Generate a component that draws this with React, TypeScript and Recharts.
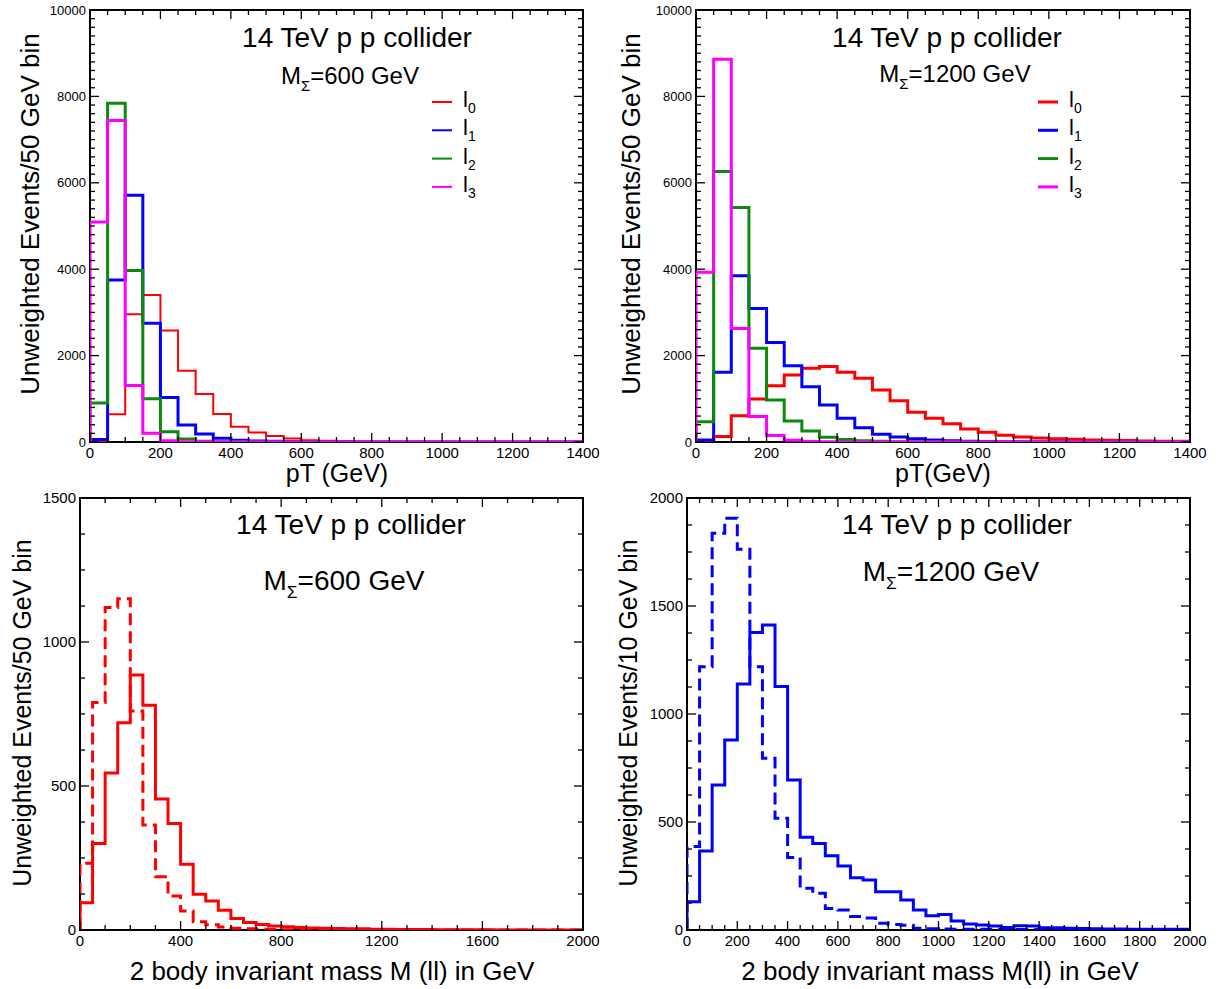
import React from 'react'
import { ComposedChart, Line, XAxis, YAxis, ReferenceArea } from 'recharts'

const FONT = '"Liberation Sans", Arial, Helvetica, sans-serif'
const RED = '#ff0000'
const BLUE = '#0000ff'
const GREEN = '#0b8a0b'
const MAGENTA = '#ff00ff'

// pT of the four leptons, 50 GeV bins from 0 to 1400
const PT_BIN = 50
const PT600_L0 = [0, 640, 2960, 3400, 2580, 1650, 1110, 650, 355, 220, 140, 80, 40, 30, 20, 12, 8, 5, 4, 3, 2, 2, 1, 1, 0, 0, 0, 0]
const PT600_L1 = [60, 3750, 5710, 2750, 1030, 395, 185, 85, 40, 25, 15, 10, 6, 4, 3, 2, 1, 1, 0, 0, 0, 0, 0, 0, 0, 0, 0, 0]
const PT600_L2 = [900, 7840, 3970, 1000, 240, 70, 20, 8, 4, 2, 1, 0, 0, 0, 0, 0, 0, 0, 0, 0, 0, 0, 0, 0, 0, 0, 0, 0]
const PT600_L3 = [5090, 7440, 1310, 200, 30, 8, 3, 1, 0, 0, 0, 0, 0, 0, 0, 0, 0, 0, 0, 0, 0, 0, 0, 0, 0, 0, 0, 0]

const PT1200_L0 = [20, 125, 610, 995, 1300, 1550, 1705, 1745, 1615, 1475, 1205, 955, 690, 550, 420, 300, 225, 155, 115, 95, 78, 62, 48, 40, 32, 25, 20, 15]
const PT1200_L1 = [45, 1615, 3850, 3090, 2305, 1765, 1280, 855, 550, 330, 178, 115, 77, 46, 30, 18, 12, 8, 5, 4, 3, 2, 1, 1, 0, 0, 0, 0]
const PT1200_L2 = [470, 6260, 5430, 2170, 970, 485, 255, 110, 60, 30, 15, 8, 4, 2, 1, 0, 0, 0, 0, 0, 0, 0, 0, 0, 0, 0, 0, 0]
const PT1200_L3 = [3930, 8860, 2630, 590, 150, 40, 12, 5, 2, 1, 0, 0, 0, 0, 0, 0, 0, 0, 0, 0, 0, 0, 0, 0, 0, 0, 0, 0]

// two body invariant mass, 50 GeV bins from 0 to 2000
const MLL_BIN = 50
const MLL600_SOLID = [95, 300, 545, 720, 885, 780, 455, 370, 228, 124, 101, 69, 40, 26, 19, 14, 11, 9, 7, 6, 5, 4, 4, 3, 3, 2, 2, 2, 1, 1, 1, 1, 1, 0, 0, 0, 0, 0, 0, 0]
const MLL600_DASHED = [232, 790, 1120, 1150, 760, 365, 185, 118, 66, 29, 18, 10, 6, 4, 3, 2, 1, 1, 0, 0, 0, 0, 0, 0, 0, 0, 0, 0, 0, 0, 0, 0, 0, 0, 0, 0, 0, 0, 0, 0]
const MLL1200_SOLID = [131, 366, 671, 880, 1139, 1377, 1412, 1127, 694, 429, 401, 344, 296, 242, 231, 177, 177, 139, 93, 66, 72, 42, 28, 23, 19, 12, 20, 18, 10, 10, 8, 7, 6, 5, 5, 4, 4, 3, 3, 3]
const MLL1200_DASHED = [386, 1219, 1837, 1906, 1763, 1219, 795, 517, 336, 193, 170, 100, 93, 62, 56, 31, 26, 22, 8, 6, 5, 4, 4, 3, 3, 2, 2, 2, 1, 1, 1, 1, 1, 0, 0, 0, 0, 0, 0, 0]

const PT_X_TICKS = [0, 200, 400, 600, 800, 1000, 1200, 1400]
const PT_Y_TICKS = [0, 2000, 4000, 6000, 8000, 10000]
const M600_X_TICKS = [0, 400, 800, 1200, 1600, 2000]
const M600_Y_TICKS = [0, 500, 1000, 1500]
const M1200_X_TICKS = [0, 200, 400, 600, 800, 1000, 1200, 1400, 1600, 1800, 2000]
const M1200_Y_TICKS = [0, 500, 1000, 1500, 2000]

const LEPTONS = ['0', '1', '2', '3']

function steps(values: number[], bin: number) {
  const rows = [{ x: 0, y: 0 }]
  values.forEach((v, i) => rows.push({ x: i * bin, y: v }))
  rows.push({ x: values.length * bin, y: values[values.length - 1] })
  return rows
}

function withMinors(majors: number[], minor: number) {
  const out: number[] = []
  const max = majors[majors.length - 1]
  for (let v = majors[0]; v <= max; v += minor) out.push(v)
  return out
}

interface Series { values: number[]; color: string; width: number; dash?: string }
interface Plot { l: number; t: number; r: number; b: number }

interface PanelProps {
  left: number
  top: number
  width: number
  height: number
  plot: Plot
  bin: number
  xTicks: number[]
  xMinor: number
  yTicks: number[]
  yMinor: number
  yFont: number
  series: Series[]
}

function Panel({ left, top, width, height, plot, bin, xTicks, xMinor, yTicks, yMinor, yFont, series }: PanelProps) {
  const xMax = xTicks[xTicks.length - 1]
  const yMax = yTicks[yTicks.length - 1]

  const xTick = (p: any) => {
    const major = xTicks.includes(p.payload.value)
    const len = major ? 9 : 5
    return (
      <g>
        <line x1={p.x} x2={p.x} y1={plot.b} y2={plot.b - len} stroke="#000" strokeWidth={1.3} />
        <line x1={p.x} x2={p.x} y1={plot.t} y2={plot.t + len} stroke="#000" strokeWidth={1.3} />
        {major && (
          <text x={p.x} y={plot.b + 16} textAnchor="middle" fontSize={15} fontFamily={FONT} fill="#000">
            {p.payload.value}
          </text>
        )}
      </g>
    )
  }

  const yTick = (p: any) => {
    const major = yTicks.includes(p.payload.value)
    const len = major ? 9 : 5
    return (
      <g>
        <line x1={plot.l} x2={plot.l + len} y1={p.y} y2={p.y} stroke="#000" strokeWidth={1.3} />
        <line x1={plot.r} x2={plot.r - len} y1={p.y} y2={p.y} stroke="#000" strokeWidth={1.3} />
        {major && (
          <text x={plot.l - 4} y={p.y} dy="0.35em" textAnchor="end" fontSize={yFont} fontFamily={FONT} fill="#000">
            {p.payload.value}
          </text>
        )}
      </g>
    )
  }

  return (
    <div style={{ position: 'absolute', left, top, width, height }}>
      <ComposedChart
        width={width}
        height={height}
        margin={{ top: plot.t, right: width - plot.r, bottom: 0, left: 0 }}
      >
        <XAxis
          type="number"
          dataKey="x"
          domain={[0, xMax]}
          ticks={withMinors(xTicks, xMinor)}
          interval={0}
          height={height - plot.b}
          axisLine={false}
          tickLine={false}
          tick={xTick}
          allowDataOverflow
        />
        <YAxis
          type="number"
          domain={[0, yMax]}
          ticks={withMinors(yTicks, yMinor)}
          interval={0}
          width={plot.l}
          axisLine={false}
          tickLine={false}
          tick={yTick}
          allowDataOverflow
        />
        <ReferenceArea x1={0} x2={xMax} y1={0} y2={yMax} fill="none" fillOpacity={0} stroke="#000" strokeWidth={2} />
        {series.map((s, i) => (
          <Line
            key={i}
            data={steps(s.values, bin)}
            dataKey="y"
            type="stepAfter"
            stroke={s.color}
            strokeWidth={s.width}
            strokeDasharray={s.dash}
            dot={false}
            activeDot={false}
            isAnimationActive={false}
          />
        ))}
      </ComposedChart>
    </div>
  )
}

function MassLabel({ x, y, size, mass }: { x: number; y: number; size: number; mass: string }) {
  return (
    <text x={x} y={y} textAnchor="middle" fontSize={size} fontFamily={FONT}>
      <tspan>M</tspan>
      <tspan dy={size * 0.28} fontSize={size * 0.62}>Σ</tspan>
      <tspan dy={-size * 0.28}>={mass} GeV</tspan>
    </text>
  )
}

function LegendBox({ x, y, colors, width }: { x: number; y: number; colors: string[]; width: number }) {
  return (
    <g>
      {LEPTONS.map((n, i) => (
        <g key={n}>
          <line x1={x} x2={x + 20} y1={y + i * 28.3} y2={y + i * 28.3} stroke={colors[i]} strokeWidth={width} />
          <text x={x + 31} y={y + i * 28.3 + 5} fontSize={22} fontFamily={FONT}>
            <tspan>l</tspan>
            <tspan dy={6} fontSize={14}>{n}</tspan>
          </text>
        </g>
      ))}
    </g>
  )
}

function YTitle({ x, y, size, text }: { x: number; y: number; size: number; text: string }) {
  return (
    <text x={x} y={y} transform={`rotate(-90 ${x} ${y})`} textAnchor="middle" fontSize={size} fontFamily={FONT}>
      {text}
    </text>
  )
}

export default function App() {
  return (
    <div style={{ position: 'absolute', left: 0, top: 0, width: 1220, height: 989, background: '#fff', fontFamily: FONT }}>
      <Panel
        left={0} top={0} width={600} height={495}
        plot={{ l: 90, t: 10, r: 583, b: 442 }}
        bin={PT_BIN}
        xTicks={PT_X_TICKS} xMinor={50}
        yTicks={PT_Y_TICKS} yMinor={200} yFont={13}
        series={[
          { values: PT600_L0, color: RED, width: 2 },
          { values: PT600_L1, color: BLUE, width: 3 },
          { values: PT600_L2, color: GREEN, width: 3 },
          { values: PT600_L3, color: MAGENTA, width: 3 },
        ]}
      />
      <Panel
        left={606} top={0} width={614} height={495}
        plot={{ l: 90, t: 10, r: 584, b: 442 }}
        bin={PT_BIN}
        xTicks={PT_X_TICKS} xMinor={50}
        yTicks={PT_Y_TICKS} yMinor={200} yFont={13}
        series={[
          { values: PT1200_L0, color: RED, width: 3 },
          { values: PT1200_L1, color: BLUE, width: 3 },
          { values: PT1200_L2, color: GREEN, width: 3 },
          { values: PT1200_L3, color: MAGENTA, width: 3 },
        ]}
      />
      <Panel
        left={0} top={485} width={600} height={504}
        plot={{ l: 80, t: 13, r: 583, b: 445 }}
        bin={MLL_BIN}
        xTicks={M600_X_TICKS} xMinor={100}
        yTicks={M600_Y_TICKS} yMinor={125} yFont={15}
        series={[
          { values: MLL600_DASHED, color: RED, width: 3, dash: '12 6' },
          { values: MLL600_SOLID, color: RED, width: 3 },
        ]}
      />
      <Panel
        left={606} top={485} width={614} height={504}
        plot={{ l: 81, t: 13, r: 584, b: 445 }}
        bin={MLL_BIN}
        xTicks={M1200_X_TICKS} xMinor={50}
        yTicks={M1200_Y_TICKS} yMinor={125} yFont={15}
        series={[
          { values: MLL1200_DASHED, color: BLUE, width: 3, dash: '12 6' },
          { values: MLL1200_SOLID, color: BLUE, width: 3 },
        ]}
      />

      {/* titles, legends and axis titles */}
      <svg width={1220} height={989} style={{ position: 'absolute', left: 0, top: 0, pointerEvents: 'none' }}>
        <text x={357} y={47} textAnchor="middle" fontSize={28} fontFamily={FONT}>14 TeV p p collider</text>
        <MassLabel x={350} y={84} size={24} mass="600" />
        <LegendBox x={432} y={102} colors={[RED, BLUE, GREEN, MAGENTA]} width={2} />
        <YTitle x={39} y={214} size={26} text="Unweighted Events/50 GeV bin" />
        <text x={337} y={482} textAnchor="middle" fontSize={25} fontFamily={FONT}>pT (GeV)</text>

        <text x={947} y={47} textAnchor="middle" fontSize={28} fontFamily={FONT}>14 TeV p p collider</text>
        <MassLabel x={955} y={82} size={24} mass="1200" />
        <LegendBox x={1038} y={102} colors={[RED, BLUE, GREEN, MAGENTA]} width={3} />
        <YTitle x={640} y={214} size={26} text="Unweighted Events/50 GeV bin" />
        <text x={943} y={482} textAnchor="middle" fontSize={25} fontFamily={FONT}>pT(GeV)</text>

        <text x={351} y={534} textAnchor="middle" fontSize={28} fontFamily={FONT}>14 TeV p p collider</text>
        <MassLabel x={344} y={590} size={28} mass="600" />
        <YTitle x={31} y={713} size={25} text="Unweighted Events/50 GeV bin" />
        <text x={332} y={980} textAnchor="middle" fontSize={26} fontFamily={FONT}>2 body invariant mass M (ll) in GeV</text>

        <text x={957} y={534} textAnchor="middle" fontSize={28} fontFamily={FONT}>14 TeV p p collider</text>
        <MassLabel x={951} y={581} size={28} mass="1200" />
        <YTitle x={637} y={713} size={25} text="Unweighted Events/10 GeV bin" />
        <text x={940} y={980} textAnchor="middle" fontSize={26} fontFamily={FONT}>2 body invariant mass M(ll) in GeV</text>
      </svg>
    </div>
  )
}
